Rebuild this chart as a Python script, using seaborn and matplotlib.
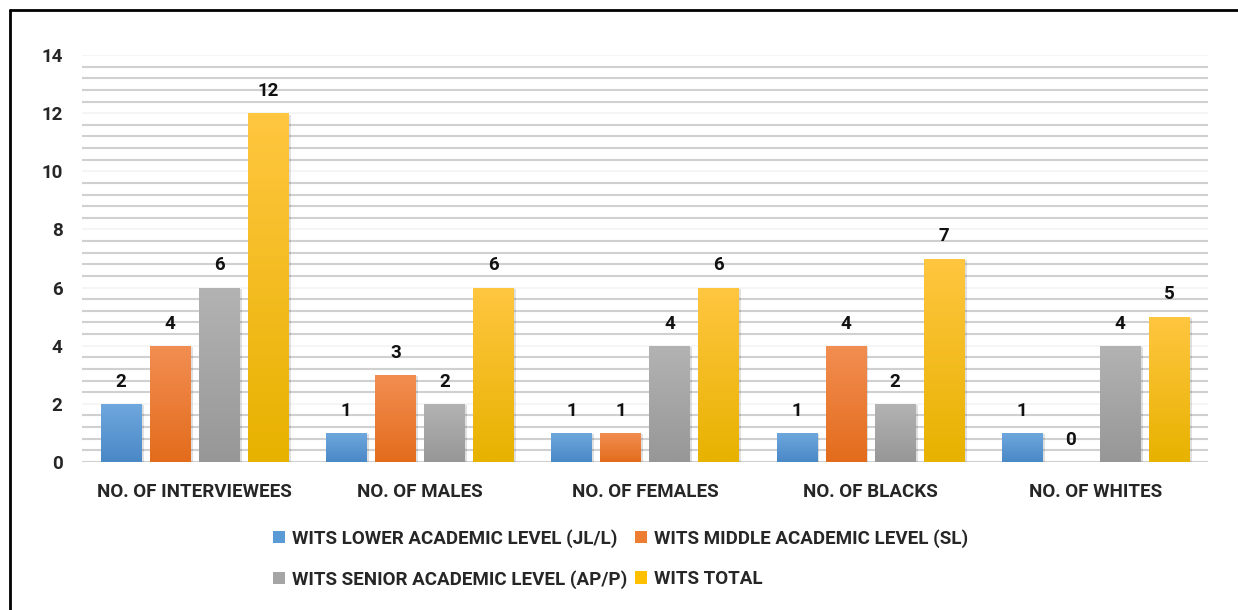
import numpy as np
import pandas as pd
import matplotlib
matplotlib.use("Agg")
import matplotlib.pyplot as plt
import seaborn as sns
from matplotlib.colors import LinearSegmentedColormap
from matplotlib.patches import Patch

# chart values
categories = ["NO. OF INTERVIEWEES", "NO. OF MALES", "NO. OF FEMALES", "NO. OF BLACKS", "NO. OF WHITES"]
series = ["WITS LOWER ACADEMIC LEVEL (JL/L)", "WITS MIDDLE ACADEMIC LEVEL (SL)",
          "WITS SENIOR ACADEMIC LEVEL (AP/P)", "WITS TOTAL"]
lower = [2, 1, 1, 1, 1]
middle = [4, 3, 1, 4, 0]
senior = [6, 2, 4, 2, 4]
total = [12, 6, 6, 7, 5]

colors = ["#5B9BD5", "#ED7D31", "#A5A5A5", "#FFC000"]
tops = ["#6FA8DE", "#F28E52", "#B3B3B3", "#FFC640"]
bottoms = ["#4A88C6", "#E36C1C", "#979797", "#E8B200"]

df = pd.DataFrame({"category": categories * 4,
                   "series": np.repeat(series, len(categories)),
                   "value": lower + middle + senior + total})

sns.set_style("white")
plt.rcParams["font.family"] = ["Roboto", "DejaVu Sans"]
FS = 13.5

fig = plt.figure(figsize=(12.38, 6.10), dpi=100)
ax = fig.add_axes([82 / 1238, 1 - 462 / 610, (1208 - 82) / 1238, (462 - 55) / 610])

sns.barplot(data=df, x="category", y="value", hue="series", palette=colors,
            width=0.871, gap=0.18, ax=ax, legend=False, zorder=3, edgecolor="none")

# gridlines: grey every 0.4, almost white on the labelled values
for v in np.arange(0.4, 14.01, 0.4):
    if abs(v / 2 - round(v / 2)) < 1e-6:
        ax.axhline(v, color="#f3f3f3", lw=1.2, zorder=1)
    else:
        ax.axhline(v, color="#d0d0d0", lw=1.5, zorder=1)
ax.axhline(0, color="#d0d0d0", lw=1.5, zorder=2)

# gradient fill + soft shadow + value labels
vals_by_series = [lower, middle, senior, total]
for k, cont in enumerate(ax.containers):
    cmap = LinearSegmentedColormap.from_list("g%d" % k, [bottoms[k], tops[k]])
    for bar, v in zip(cont, vals_by_series[k]):
        x0, w, h = bar.get_x(), bar.get_width(), bar.get_height()
        if h > 0:
            ax.add_patch(plt.Rectangle((x0 + 0.012, 0), w, h - 0.05, color="#000000",
                                       alpha=0.12, lw=0, zorder=2.5))
            grad = np.linspace(0, 1, 100).reshape(-1, 1)
            im = ax.imshow(grad, cmap=cmap, origin="lower", aspect="auto",
                           extent=(x0, x0 + w, 0, h), zorder=4)
            im.set_clip_path(bar)
        ax.text(x0 + w / 2, h + 0.59, str(v), ha="center", va="baseline",
                fontsize=FS, fontweight="bold", color="#111111")
ax.set_xlim(-0.5, 4.5)
ax.set_ylim(0, 14)

ax.set_yticks(range(0, 15, 2))
ax.set_yticklabels([str(t) for t in range(0, 15, 2)], fontsize=FS, fontweight="bold")
ax.set_xticks(range(len(categories)))
ax.set_xticklabels(categories, fontsize=FS, fontweight="bold")
ax.tick_params(axis="y", length=0, pad=14)
ax.tick_params(axis="x", length=0, pad=15)
ax.set_xlabel("")
ax.set_ylabel("")
for s in ax.spines.values():
    s.set_visible(False)

# legend, order so that rows read LOWER, MIDDLE / SENIOR, TOTAL
order = [0, 2, 1, 3]
handles = [Patch(facecolor=colors[i], edgecolor="none") for i in order]
labels = [series[i] for i in order]
fig.legend(handles, labels, loc="upper left", bbox_to_anchor=(256 / 1238, 1 - 512 / 610),
           ncol=2, frameon=False, prop={"weight": "bold", "size": FS},
           handlelength=0.64, handleheight=0.64, handletextpad=0.37,
           columnspacing=0.43, labelspacing=1.2)

# outer frame (only left and top visible in crop)
fig.add_artist(plt.Line2D([10 / 1238, 10 / 1238], [0, 1 - 10 / 610], color="black", lw=2))
fig.add_artist(plt.Line2D([10 / 1238, 1], [1 - 10 / 610, 1 - 10 / 610], color="black", lw=2))

fig.savefig("out.png", dpi=100)
